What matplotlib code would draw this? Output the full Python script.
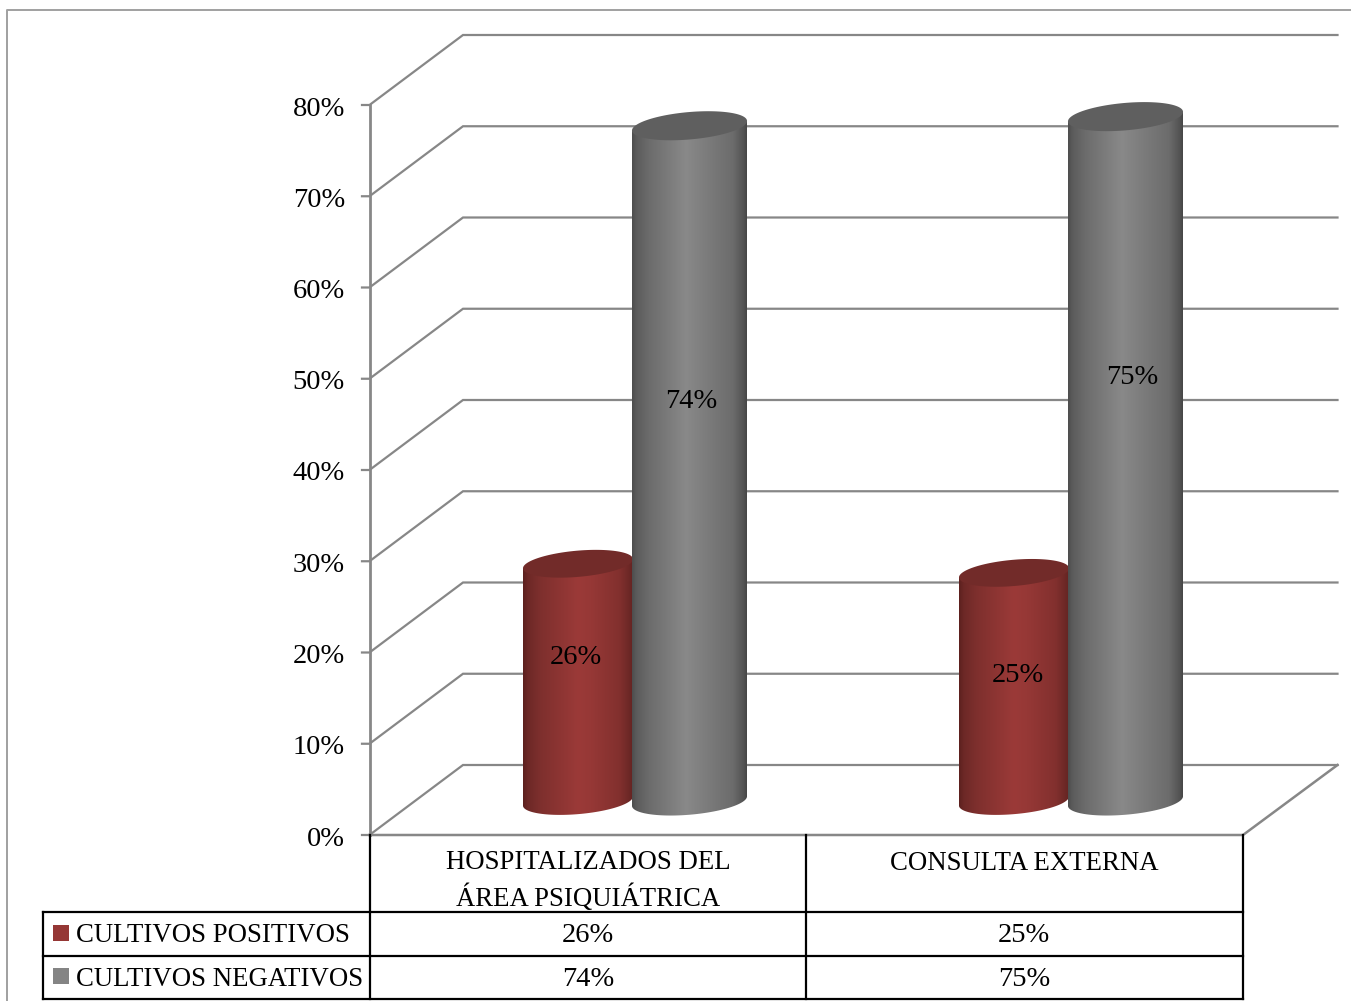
import numpy as np
import matplotlib
matplotlib.use('Agg')
import matplotlib.pyplot as plt
from matplotlib.patches import Polygon, Rectangle

categorias = ['HOSPITALIZADOS DEL\nÁREA PSIQUIÁTRICA', 'CONSULTA EXTERNA']
series = ['CULTIVOS POSITIVOS', 'CULTIVOS NEGATIVOS']
positivos = [26, 25]
negativos = [74, 75]
y_ticks = [0, 10, 20, 30, 40, 50, 60, 70, 80]

plt.rcParams['font.family'] = ['Liberation Serif', 'DejaVu Serif']

GRID = '#878787'
FS = 20.5
FS_TXT = 19.3

# escala del grafico en pixeles de la imagen
Y0_FRONT = 835
Y0_BACK = 765
Y0_BAR = 801
PX = 9.125
X_FRONT = 369.5
X_BACK = 463
X_END = 1337.5
X_FLOOR = 1243
X_TABLA = 370
CELL = 436


def y_front(v):
    return Y0_FRONT - v * PX


def y_back(v):
    return Y0_BACK - v * PX


def cilindro(ax, cx, half, valor, stops, colores, tapa, z):
    a = half * 1.004
    b = half * 0.238
    th = np.radians(5)
    t0 = np.arctan2(b * np.sin(th), a * np.cos(th))

    def elipse(cy, t):
        x = cx + a * np.cos(th) * np.cos(t) + b * np.sin(th) * np.sin(t)
        y = cy - a * np.sin(th) * np.cos(t) + b * np.cos(th) * np.sin(t)
        return np.column_stack([x, y])

    top = Y0_BAR - valor * PX
    abajo = elipse(Y0_BAR, np.linspace(t0, t0 + np.pi, 80))
    arriba = elipse(top, np.array([t0 + np.pi, t0]))
    cuerpo = Polygon(np.vstack([abajo, arriba]), closed=True, transform=ax.transData,
                     fc='none', ec='none')
    ax.add_patch(cuerpo)

    u = np.linspace(0, 1, 256)
    grad = np.stack([np.interp(u, stops, [c[i] for c in colores]) for i in range(3)], axis=-1)
    im = ax.imshow(grad[np.newaxis, :, :] / 255.0, extent=(cx - half, cx + half, Y0_BAR + 20, top - 20),
                   aspect='auto', zorder=z, interpolation='bilinear')
    im.set_clip_path(cuerpo)

    ax.add_patch(Polygon(elipse(top, np.linspace(0, 2 * np.pi, 120)), closed=True,
                         fc=tapa, ec='none', zorder=z + 0.1))


fig = plt.figure(figsize=(13.51, 10.01), dpi=100)
ax = fig.add_axes([0, 0, 1, 1])
ax.axis('off')

# marco exterior
ax.plot([6.5, 6.5, 1351], [1001, 10, 10], color='#a0a0a0', lw=1.4, zorder=1)

# paredes y rejilla
for v in y_ticks:
    ax.plot([362, X_FRONT, X_BACK, X_END], [y_front(v), y_front(v), y_back(v), y_back(v)],
            color=GRID, lw=1.6, zorder=2, solid_joinstyle='miter')
    ax.text(345, y_front(v) + 4, f'{v}%', ha='right', va='center', fontsize=FS, color='black', zorder=6)
ax.plot([X_FRONT, X_FRONT], [y_front(80), y_front(0)], color=GRID, lw=2.0, zorder=2)
ax.plot([X_FRONT, X_FLOOR, X_END], [Y0_FRONT, Y0_FRONT, Y0_BACK], color=GRID, lw=1.8, zorder=2)

# cilindros
rojo_stops = [0, 0.04, 0.15, 0.5, 0.62, 0.88, 0.97, 1]
rojo_col = [(92, 32, 30), (108, 40, 38), (125, 47, 45), (155, 58, 56), (150, 56, 54), (130, 48, 46), (108, 40, 38), (100, 36, 34)]
gris_stops = [0, 0.04, 0.15, 0.47, 0.62, 0.88, 0.97, 1]
gris_col = [(78, 78, 78), (92, 92, 92), (108, 108, 108), (137, 137, 137), (126, 126, 126), (108, 108, 108), (84, 84, 84), (70, 70, 70)]

for i in range(len(categorias)):
    c = X_TABLA + CELL * (i + 0.5)
    cilindro(ax, c - 10, 55, positivos[i], rojo_stops, rojo_col, '#722b29', 3)
    cilindro(ax, c + 101.5, 57.5, negativos[i], gris_stops, gris_col, '#5f5f5f', 4)

# etiquetas de datos
pos_x = [576, 1018]
pos_y = [658, 676]
neg_x = [691, 1132]
neg_y = [402, 378]
for i in range(len(categorias)):
    ax.text(pos_x[i], pos_y[i], f'{positivos[i]}%', ha='center', va='center', fontsize=FS, color='black', zorder=6)
    ax.text(neg_x[i], neg_y[i], f'{negativos[i]}%', ha='center', va='center', fontsize=FS, color='black', zorder=6)

# tabla de datos
for x in [X_TABLA, X_TABLA + CELL, X_FLOOR]:
    ax.plot([x, x], [Y0_FRONT, 999], color='black', lw=1.6, zorder=5)
for y in [912, 956, 999]:
    ax.plot([43, X_FLOOR], [y, y], color='black', lw=1.6, zorder=5)
ax.plot([43, 43], [912, 999], color='black', lw=1.6, zorder=5)

cat_y = [881, 863]
for i, cat in enumerate(categorias):
    ax.text(X_TABLA + CELL * (i + 0.5), cat_y[i], cat, ha='center', va='center', fontsize=FS_TXT,
            linespacing=1.4, color='black', zorder=6)

filas = [positivos, negativos]
filas_y = [936, 979]
colores_leyenda = ['#953735', '#848484']
for fila, y, nombre, col in zip(filas, filas_y, series, colores_leyenda):
    ax.add_patch(Rectangle((53, y - 11), 16, 16, fc=col, ec='none', zorder=6))
    ax.text(76.5, y, nombre, ha='left', va='center', fontsize=FS_TXT, color='black', zorder=6)
    for i, v in enumerate(fila):
        ax.text(X_TABLA + CELL * (i + 0.5), y, f'{v}%', ha='center', va='center', fontsize=FS,
                color='black', zorder=6)

ax.set_xlim(0, 1351)
ax.set_ylim(1001, 0)

fig.savefig('out.png', dpi=100)
